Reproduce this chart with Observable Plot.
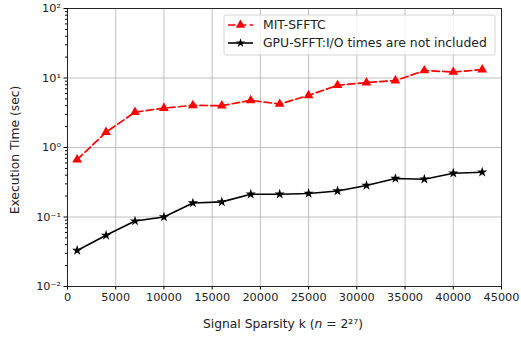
<!DOCTYPE html>
<html><head>
<meta charset="utf-8">
<script src="https://cdn.jsdelivr.net/npm/d3@7"></script>
<script src="https://cdn.jsdelivr.net/npm/@observablehq/plot@0.6"></script>
<style>body{margin:0;background:#fff} svg{font-family:"DejaVu Sans"}</style>
</head><body><div id="chart"></div>
<script>
const sparsity = [1000,4000,7000,10000,13000,16000,19000,22000,25000,28000,31000,34000,37000,40000,43000];
const mitSfftc = [0.67,1.66,3.23,3.69,4.04,4.0,4.77,4.22,5.63,7.85,8.59,9.17,12.8,12.2,13.2];
const gpuSfft = [0.033,0.0545,0.0875,0.1,0.159,0.165,0.213,0.213,0.218,0.237,0.284,0.358,0.35,0.427,0.441];
const seriesNames = ["MIT-SFFTC","GPU-SFFT:I/O times are not included"];
const xTicks = [0,5000,10000,15000,20000,25000,30000,35000,40000,45000];
const yTicks = [0.01,0.1,1,10,100];
const yTickLabels = ["10\u207B\u00B2","10\u207B\u00B9","10\u2070","10\u00B9","10\u00B2"];
const yMinor = [];
for (const d of [0.01,0.1,1,10]) for (let m = 2; m <= 9; m++) yMinor.push(+(d*m).toPrecision(3));

const mit = sparsity.map((k,i)=>({k, t: mitSfftc[i]}));
const gpu = sparsity.map((k,i)=>({k, t: gpuSfft[i]}));
const FS = 11.3, LFS = 12.3, GFS = 12.4;
const DASH = "7.5,3.3";

const plot = Plot.plot({
  width:521, height:337, marginLeft:67, marginRight:20, marginTop:8, marginBottom:51,
  style:{fontFamily:"DejaVu Sans", fontSize:FS+"px", color:"#000", background:"#fff"},
  x:{domain:[0,45000]},
  y:{type:"log", domain:[0.01,100]},
  marks:[
    Plot.gridX(xTicks,{stroke:"#b0b0b0", strokeOpacity:1, strokeWidth:0.8}),
    Plot.gridY(yTicks,{stroke:"#b0b0b0", strokeOpacity:1, strokeWidth:0.8}),
    Plot.axisX({ticks:xTicks, tickSize:3.5, tickPadding:2.5, tickFormat:d=>String(d), label:null, fill:"#222"}),
    Plot.axisY({ticks:yTicks, tickSize:3.5, tickPadding:3, tickFormat:d=>yTickLabels[yTicks.indexOf(d)], label:null, fill:"#222"}),
    Plot.axisY({ticks:yMinor, tickSize:2, tickFormat:()=>"", label:null}),
    Plot.frame({stroke:"#000", strokeWidth:0.8}),
    Plot.line(mit,{x:"k", y:"t", stroke:"red", strokeWidth:1.7, strokeDasharray:DASH}),
    Plot.dot(mit,{x:"k", y:"t", symbol:"triangle", fill:"red", r:3.6}),
    Plot.line(gpu,{x:"k", y:"t", stroke:"#000", strokeWidth:1.6}),
    Plot.dot(gpu,{x:"k", y:"t", symbol:"star", fill:"#000", r:3.2})
  ]
});
document.getElementById("chart").append(plot);

const svg = d3.select(plot);
// axis labels
const xl = svg.append("text").attr("x",283).attr("y",328).attr("text-anchor","middle")
  .attr("font-size",LFS).attr("fill","#222");
xl.append("tspan").text("Signal Sparsity k (");
xl.append("tspan").attr("font-style","italic").text("n");
xl.append("tspan").text(" = 2\u00B2\u2077)");
svg.append("text").attr("transform","translate(19,150) rotate(-90)").attr("text-anchor","middle")
  .attr("font-size",LFS).attr("fill","#222").text("Execution Time (sec)");

// legend
const lg = svg.append("g");
lg.append("rect").attr("x",224).attr("y",15).attr("width",271).attr("height",40).attr("rx",2)
  .attr("fill","#fff").attr("fill-opacity",0.8).attr("stroke","#ccc").attr("stroke-width",0.8);
const rows = [
  {y:25, color:"red", dash:DASH, sym:d3.symbolTriangle, size:38},
  {y:43, color:"#000", dash:null, sym:d3.symbolStar, size:26}
];
rows.forEach((r,i)=>{
  lg.append("line").attr("x1",228).attr("x2",253).attr("y1",r.y).attr("y2",r.y)
    .attr("stroke",r.color).attr("stroke-width",1.6).attr("stroke-dasharray",r.dash);
  lg.append("path").attr("d",d3.symbol(r.sym, r.size)()).attr("transform",`translate(240.5,${r.y})`).attr("fill",r.color);
  lg.append("text").attr("x",263).attr("y",r.y+4.3).attr("text-anchor","start")
    .attr("font-size",GFS).attr("fill","#222").text(seriesNames[i]);
});
</script>
</body></html>
